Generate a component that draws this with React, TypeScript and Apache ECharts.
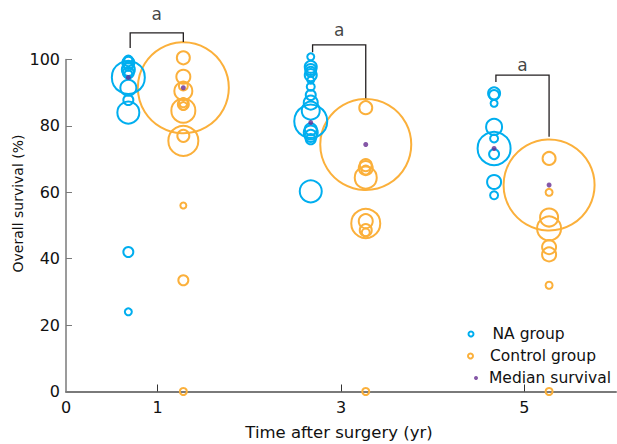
import React, { useEffect, useRef } from "react";
import * as echarts from "echarts";

// ---- data ----
const xLabelValues = [0, 1, 3, 5];
const xTickValues = [1, 3, 5];
const timePoints = [1, 3, 5];
const naX = [0.68, 2.67, 4.67];
const ctrlX = [1.28, 3.27, 5.27];

// overall survival (%) of each study, and bubble diameter (px, study weight)
const naSurv1 = [100, 99.5, 99, 98, 97, 96, 95.5, 94.6, 91.5, 87.8, 84, 42, 24];
const naSize1 = [8, 10, 12, 9, 13, 11, 8, 33, 16, 10, 22, 10, 7];
const naSurv3 = [100.8, 97.8, 97, 96.3, 95.3, 93.8, 91.8, 89.3, 87, 84.6, 81.4, 79, 78, 77, 76, 60.3];
const naSize3 = [7, 12, 11, 10, 12, 7, 8, 10, 14, 18, 33, 12, 14, 12, 10, 22];
const naSurv5 = [89.8, 89.3, 86.8, 79.7, 76.2, 73.2, 71.5, 63.1, 59.1];
const naSize5 = [12, 10, 7, 16, 8, 33, 10, 14, 8];

const ctrlSurv1 = [100.5, 94.8, 92, 90.5, 87, 86.5, 86, 84.6, 91.5, 77, 75.5, 56, 33.5, 0];
const ctrlSize1 = [13, 14, 9, 18, 9, 11, 8, 24, 91, 12, 30, 6, 10, 7];
const ctrlSurv3 = [85.5, 74.4, 68.2, 67.3, 66.7, 64.4, 51.3, 50.6, 48.6, 47.9, 0];
const ctrlSize3 = [13, 91, 12, 14, 9, 22, 14, 29, 12, 8, 7];
const ctrlSurv5 = [70.2, 62.2, 60, 52.4, 49.1, 43.5, 41.3, 32, 0];
const ctrlSize5 = [13, 91, 7, 18, 24, 14, 14, 7, 7];

const naMedian = [94.6, 81.0, 73.2];
const ctrlMedian = [91.5, 74.4, 62.2];

// significance brackets
const bracketTop = [108, 104.4, 95.3];
const bracketLeftEnd = [103.5, 102.2, 93.2];
const bracketRightEnd = [105.3, 88.3, 76.7];
const sigLabelY = [113.7, 108.9, 98.3];
const sigLabels = ["a", "a", "a"];

const BLUE = "#00AEEF";
const ORANGE = "#FBB03B";
const PURPLE = "#662D91";
const AXIS = "#7a7a7a";
const TEXT = "#111111";
const FONT = "DejaVu Sans";

function zip(x: number, ys: number[], sizes: number[]) {
  return ys.map((y, i) => [x, y, sizes[i]]);
}

export default function App() {
  const ref = useRef<HTMLDivElement>(null);
  useEffect(() => {
    if (!ref.current) return;
    const chart = echarts.init(ref.current, undefined, { renderer: "svg" });

    const naData = [
      ...zip(naX[0], naSurv1, naSize1),
      ...zip(naX[1], naSurv3, naSize3),
      ...zip(naX[2], naSurv5, naSize5),
    ];
    const ctrlData = [
      ...zip(ctrlX[0], ctrlSurv1, ctrlSize1),
      ...zip(ctrlX[1], ctrlSurv3, ctrlSize3),
      ...zip(ctrlX[2], ctrlSurv5, ctrlSize5),
    ];
    const medianData = [
      ...naMedian.map((m, i) => [naX[i], m]),
      ...ctrlMedian.map((m, i) => [ctrlX[i], m]),
    ];
    const bracketData = timePoints.map((_, i) => ({
      coords: [
        [naX[i] + 0.02, bracketLeftEnd[i]],
        [naX[i] + 0.02, bracketTop[i]],
        [ctrlX[i], bracketTop[i]],
        [ctrlX[i], bracketRightEnd[i]],
      ],
    }));
    const sigData = timePoints.map((_, i) => ({
      value: [(naX[i] + ctrlX[i]) / 2 + 0.01, sigLabelY[i]],
      label: { formatter: sigLabels[i] },
    }));

    const legendBase = {
      orient: "horizontal",
      padding: 0,
      selectedMode: false,
      textStyle: { fontFamily: FONT, fontSize: 15.5, color: TEXT, lineHeight: 18 },
    };

    chart.setOption({
      animation: false,
      textStyle: { fontFamily: FONT },
      grid: { left: 66, right: 1, top: 59.5, bottom: 52.5, containLabel: false },
      xAxis: {
        type: "value",
        min: 0,
        max: 6,
        interval: 1,
        splitLine: { show: false },
        axisLine: { lineStyle: { color: AXIS, width: 2 } },
        axisTick: { show: true, inside: true, length: 7, customValues: xTickValues, lineStyle: { color: "#333", width: 1 } },
        axisLabel: { customValues: xLabelValues, margin: 8, fontSize: 16, color: TEXT, fontFamily: FONT },
      },
      yAxis: {
        type: "value",
        min: 0,
        max: 100,
        interval: 20,
        splitLine: { show: false },
        axisLine: { show: true, lineStyle: { color: AXIS, width: 1.5 } },
        axisTick: { show: true, inside: true, length: 6, lineStyle: { color: AXIS, width: 1 } },
        axisLabel: { margin: 6, fontSize: 16, color: TEXT, fontFamily: FONT },
      },
      legend: [
        {
          ...legendBase,
          left: 467.5,
          top: 325,
          itemWidth: 5,
          itemHeight: 5,
          data: [{ name: "NA group", icon: "circle", itemStyle: { color: "rgba(0,0,0,0)", borderColor: BLUE, borderWidth: 2 } }],
          textStyle: { ...legendBase.textStyle, padding: [0, 0, 0, 14] },
        },
        {
          ...legendBase,
          left: 467,
          top: 347,
          itemWidth: 5,
          itemHeight: 5,
          data: [{ name: "Control group", icon: "circle", itemStyle: { color: "rgba(0,0,0,0)", borderColor: ORANGE, borderWidth: 2 } }],
          textStyle: { ...legendBase.textStyle, padding: [0, 0, 0, 12] },
        },
        {
          ...legendBase,
          left: 474,
          top: 369,
          itemWidth: 4,
          itemHeight: 4,
          data: [{ name: "Median survival", icon: "circle", itemStyle: { color: PURPLE, borderWidth: 0 } }],
          textStyle: { ...legendBase.textStyle, padding: [0, 0, 0, 6] },
        },
      ],
      graphic: [
        {
          type: "text",
          x: 17.5,
          y: 203.5,
          rotation: Math.PI / 2,
          style: {
            text: "Overall survival (%)",
            fontFamily: FONT,
            fontSize: 14,
            fill: TEXT,
            align: "center",
            verticalAlign: "middle",
          },
        },
        {
          type: "text",
          x: 339,
          y: 432,
          style: {
            text: "Time after surgery (yr)",
            fontFamily: FONT,
            fontSize: 16.5,
            fill: TEXT,
            align: "center",
            verticalAlign: "middle",
          },
        },
      ],
      series: [
        {
          name: "Control group",
          type: "scatter",
          data: ctrlData,
          symbol: "circle",
          symbolSize: (v: number[]) => v[2],
          itemStyle: { color: "rgba(0,0,0,0)", borderColor: ORANGE, borderWidth: 2, opacity: 1 },
          clip: false,
          z: 2,
        },
        {
          name: "NA group",
          type: "scatter",
          data: naData,
          symbol: "circle",
          symbolSize: (v: number[]) => v[2],
          itemStyle: { color: "rgba(0,0,0,0)", borderColor: BLUE, borderWidth: 2, opacity: 1 },
          clip: false,
          z: 3,
        },
        {
          name: "Median survival",
          type: "scatter",
          data: medianData,
          symbol: "circle",
          symbolSize: 5,
          itemStyle: { color: PURPLE },
          z: 4,
        },
        {
          name: "brackets",
          type: "lines",
          coordinateSystem: "cartesian2d",
          polyline: true,
          clip: false,
          silent: true,
          data: bracketData,
          lineStyle: { color: "#231F20", width: 1.3, opacity: 1 },
          z: 5,
        },
        {
          name: "sig",
          type: "scatter",
          data: sigData,
          symbolSize: 0,
          clip: false,
          silent: true,
          label: { show: true, position: "inside", fontSize: 17, color: TEXT, fontFamily: FONT },
          z: 5,
        },
      ],
    });
    return () => chart.dispose();
  }, []);
  return <div ref={ref} style={{ position: "absolute", left: 0, top: 0, width: 617, height: 444 }} />;
}
